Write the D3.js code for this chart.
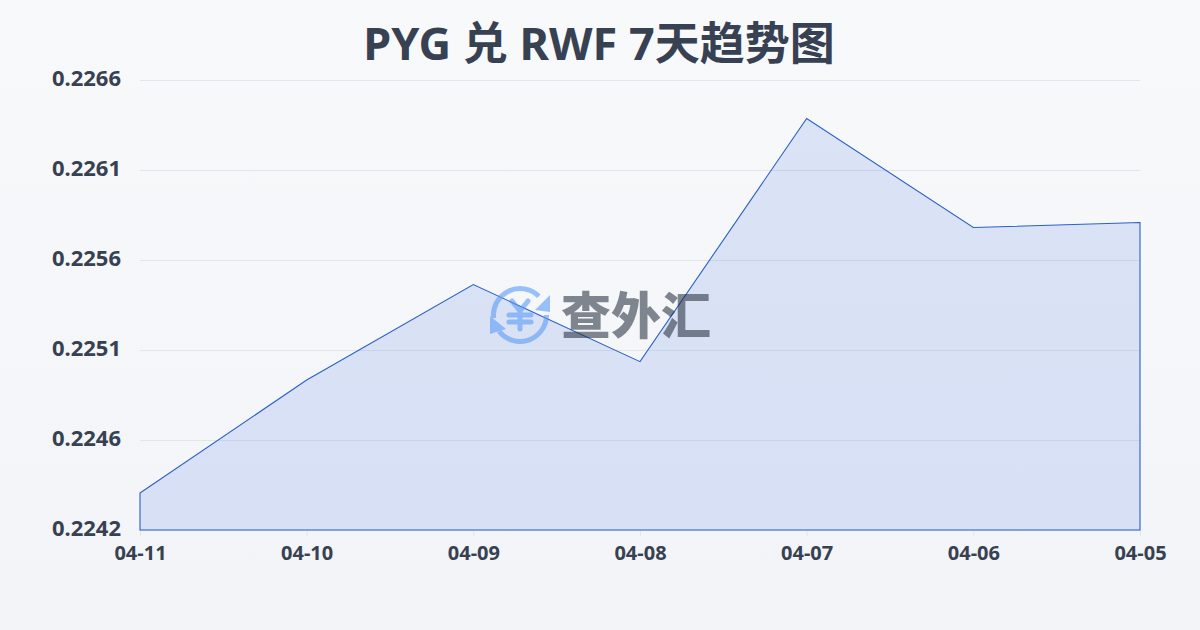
<!DOCTYPE html>
<html>
<head>
<meta charset="utf-8">
<script src="https://cdn.jsdelivr.net/npm/d3@7"></script>
<style>
  html, body { margin: 0; padding: 0; }
  body { width: 1200px; height: 630px; overflow: hidden; background: linear-gradient(180deg, #f8f9fb, #f2f4f7); }
  svg { display: block; }
  text { font-family: "Noto Sans", "Noto Sans CJK SC", sans-serif; }
</style>
</head>
<body>
<div id="container"></div>
<script>
/* DATA */
const titleText = "PYG 兑 RWF 7天趋势图";
const dates = ["04-11", "04-10", "04-09", "04-08", "04-07", "04-06", "04-05"];
const rates = [0.224357, 0.22496, 0.225469, 0.225058, 0.226355, 0.225773, 0.2258];
const yTicks = [0.22416, 0.22464, 0.22512, 0.2256, 0.22608, 0.22656];
const logoText = "查外汇";

/* CONSTANTS */
const width = 1200,
  height = 630,
  margin = {top: 80, bottom: 100, left: 140, right: 60};

const svg = d3.select("#container")
  .append("svg")
  .attr("width", width)
  .attr("height", height);

// + SCALES
const xScale = d3.scalePoint()
  .domain(dates)
  .range([margin.left, width - margin.right]);

const yScale = d3.scaleLinear()
  .domain([yTicks[0], yTicks[yTicks.length - 1]])
  .range([height - margin.bottom, margin.top]);

// + TITLE
svg.append("text")
  .attr("x", width / 2 - 1)
  .attr("y", 60)
  .attr("text-anchor", "middle")
  .attr("font-size", 45)
  .attr("font-weight", 700)
  .attr("fill", "#374151")
  .text(titleText);

// + AXES
const yAxis = d3.axisLeft(yScale)
  .tickValues(yTicks)
  .tickSize(-(width - margin.left - margin.right))
  .tickPadding(19)
  .tickFormat(d => d.toFixed(4));

svg.append("g")
  .attr("transform", `translate(${margin.left},0)`)
  .call(yAxis)
  .call(g => g.select(".domain").remove())
  .call(g => g.selectAll(".tick line").attr("stroke", "#e2e5ea"))
  .call(g => g.selectAll(".tick text")
    .attr("font-size", 22)
    .attr("font-weight", 700)
    .attr("dy", "0.27em")
    .attr("fill", "#374151"));

const xAxis = d3.axisBottom(xScale)
  .tickSize(6)
  .tickPadding(10);

svg.append("g")
  .attr("transform", `translate(0,${height - margin.bottom})`)
  .call(xAxis)
  .call(g => g.select(".domain").remove())
  .call(g => g.selectAll(".tick line").attr("stroke", "#e2e5ea"))
  .call(g => g.selectAll(".tick text")
    .attr("font-size", 20)
    .attr("font-weight", 700)
    .attr("fill", "#374151"));

// + AREA, closed outline goes down to the baseline
const area = d3.area()
  .x((d, i) => xScale(dates[i]))
  .y0(yScale.range()[0])
  .y1(d => yScale(d));

svg.append("path")
  .datum(rates)
  .attr("d", area)
  .attr("fill", "#1d55e0")
  .attr("fill-opacity", 0.13)
  .attr("stroke", "#2b5fc7")
  .attr("stroke-width", 1.1);

// + WATERMARK
const logo = svg.append("g")
  .attr("transform", "translate(520,315)")
  .attr("opacity", 0.6);

// arrows of the currency ring
const arcGen = d3.arc().innerRadius(24).outerRadius(29);
const ringBlue = "#5b9cf6";
logo.append("path")
  .attr("d", arcGen({startAngle: -1.69, endAngle: 0.79}))
  .attr("fill", ringBlue);
logo.append("path")
  .attr("d", arcGen({startAngle: 1.57, endAngle: 4.05}))
  .attr("fill", ringBlue);
logo.append("path").attr("d", "M30,-20 L30,-3 L15,-5 Z").attr("fill", ringBlue);
logo.append("path").attr("d", "M-30,1 L-30,19 L-14,14 Z").attr("fill", ringBlue);
logo.append("path")
  .attr("d", "M-8,-14 L0,-4 L8,-14 M-11,0 H11 M-11,7 H11 M0,-4 V14")
  .attr("fill", "none")
  .attr("stroke", ringBlue)
  .attr("stroke-width", 5)
  .attr("stroke-linecap", "round");

svg.append("text")
  .attr("x", 636)
  .attr("y", 334)
  .attr("text-anchor", "middle")
  .attr("font-size", 50)
  .attr("font-weight", 900)
  .style("font-family", '"Noto Sans CJK SC", sans-serif')
  .attr("fill", "#1f2937")
  .attr("opacity", 0.55)
  .text(logoText);
</script>
</body>
</html>
